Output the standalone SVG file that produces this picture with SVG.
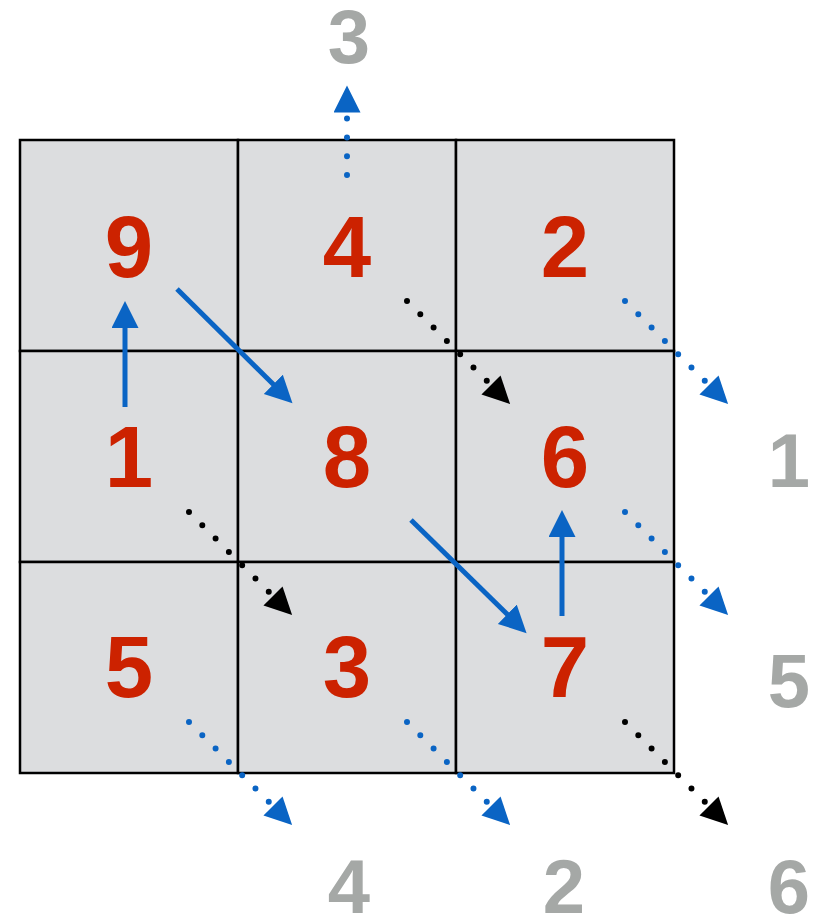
<svg xmlns="http://www.w3.org/2000/svg" width="821" height="919" viewBox="0 0 821 919">
<style>
.cell{fill:#dcdddf;stroke:#000;stroke-width:2.5}
.num{font-family:"Liberation Sans",Arial,sans-serif;font-weight:bold;font-size:87px;fill:#cc2200;text-anchor:middle}
.lbl{font-family:"Liberation Sans",Arial,sans-serif;font-weight:bold;font-size:76px;fill:#a5a8a6;text-anchor:middle}
.solid{stroke:#0a64c4;stroke-width:5;fill:none}
.dotb{stroke:#0a64c4;stroke-width:6;stroke-linecap:round;stroke-dasharray:0 18.8;fill:none}
.dotk{stroke:#000;stroke-width:6;stroke-linecap:round;stroke-dasharray:0 18.8;fill:none}
</style>
<defs>
<marker id="hb" markerUnits="userSpaceOnUse" markerWidth="30" markerHeight="30" refX="0" refY="13.5" orient="auto"><path d="M0,0 L27,13.5 L0,27 z" fill="#0a64c4"/></marker>
<marker id="hbs" markerUnits="userSpaceOnUse" markerWidth="30" markerHeight="30" refX="1" refY="13.5" orient="auto"><path d="M0,0 L27,13.5 L0,27 z" fill="#0a64c4"/></marker>
<marker id="hk" markerUnits="userSpaceOnUse" markerWidth="30" markerHeight="30" refX="0" refY="13.5" orient="auto"><path d="M0,0 L27,13.5 L0,27 z" fill="#000"/></marker>
</defs>
<g id="grid">
<g id="c9"><rect class="cell" x="20" y="140" width="218" height="211"/><text class="num" x="129" y="277">9</text></g>
<g id="c4"><rect class="cell" x="238" y="140" width="218" height="211"/><text class="num" x="347" y="277">4</text></g>
<g id="c2"><rect class="cell" x="456" y="140" width="218" height="211"/><text class="num" x="565" y="277">2</text></g>
<g id="c1"><rect class="cell" x="20" y="351" width="218" height="211"/><text class="num" x="129" y="487">1</text></g>
<g id="c8"><rect class="cell" x="238" y="351" width="218" height="211"/><text class="num" x="347" y="487">8</text></g>
<g id="c6"><rect class="cell" x="456" y="351" width="218" height="211"/><text class="num" x="565" y="487">6</text></g>
<g id="c5"><rect class="cell" x="20" y="562" width="218" height="211"/><text class="num" x="129" y="697">5</text></g>
<g id="c3"><rect class="cell" x="238" y="562" width="218" height="211"/><text class="num" x="347" y="697">3</text></g>
<g id="c7"><rect class="cell" x="456" y="562" width="218" height="211"/><text class="num" x="565" y="697">7</text></g>
</g>
<g id="labels">
<text class="lbl" x="349" y="63">3</text>
<text class="lbl" x="789" y="487">1</text>
<text class="lbl" x="789" y="707">5</text>
<text class="lbl" x="349" y="913">4</text>
<text class="lbl" x="564" y="913">2</text>
<text class="lbl" x="789" y="913">6</text>
</g>
<g id="connectors">
<line class="solid" x1="125" y1="407" x2="125" y2="327" marker-end="url(#hbs)"/>
<line class="solid" x1="177" y1="289" x2="274" y2="385" marker-end="url(#hbs)"/>
<line class="solid" x1="411" y1="520" x2="508" y2="615" marker-end="url(#hbs)"/>
<line class="solid" x1="562" y1="616" x2="562" y2="536" marker-end="url(#hbs)"/>
<line class="dotb" x1="347" y1="175" x2="347" y2="112.5" marker-end="url(#hb)"/>
<line class="dotk" x1="407" y1="301" x2="491" y2="385" marker-end="url(#hk)"/>
<line class="dotb" x1="625" y1="301" x2="709" y2="385" marker-end="url(#hb)"/>
<line class="dotk" x1="189" y1="512" x2="273" y2="596" marker-end="url(#hk)"/>
<line class="dotb" x1="625" y1="512" x2="709" y2="596" marker-end="url(#hb)"/>
<line class="dotb" x1="189" y1="722" x2="273" y2="806" marker-end="url(#hb)"/>
<line class="dotb" x1="407" y1="722" x2="491" y2="806" marker-end="url(#hb)"/>
<line class="dotk" x1="625" y1="722" x2="709" y2="806" marker-end="url(#hk)"/>
</g>
</svg>
